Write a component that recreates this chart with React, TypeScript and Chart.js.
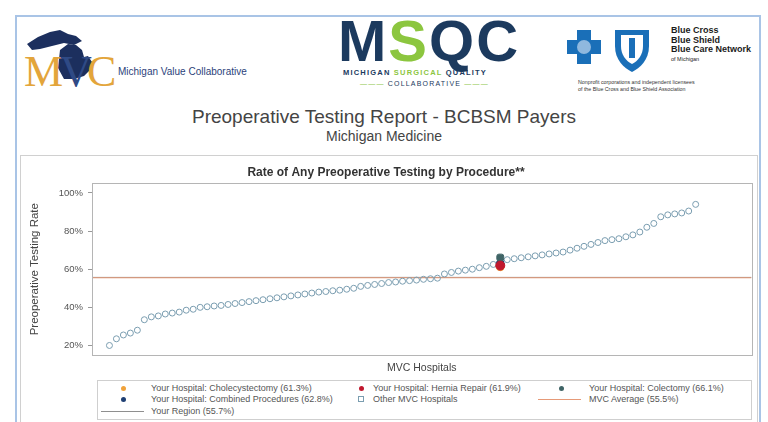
import React, { useEffect, useRef } from "react";
import { Chart, registerables } from "chart.js";

Chart.register(...registerables);

// ---- Data ----
const otherHospitalRates: (number | null)[] = [
  20, 23.5, 25.5, 26.5, 28, 33.5, 35, 35.5, 36.5, 37,
  37.5, 38.5, 39, 40, 40.3, 40.7, 41, 41.5, 42, 42.5,
  43, 43.5, 44, 44.5, 45, 45.5, 46, 46.5, 47, 47.5,
  48, 48.3, 48.7, 49, 49.5, 50, 51, 51.5, 52, 52.5,
  53, 53.3, 53.7, 54, 54.3, 54.7, 55, 55.3, 57.5, 58.3,
  59, 59.5, 60, 60.8, 61.5, 62.5, null, 65, 65.5, 66,
  66.5, 67, 67.5, 68, 68.5, 69, 70, 71, 72, 73,
  74, 75, 75.5, 76, 77, 78, 79.5, 82, 84, 87.5,
  88.5, 89, 89.5, 90.5, 94,
];
const hospitalRank = 57;
const cholecystectomyRate = 61.3;
const herniaRate = 61.9;
const colectomyRate = 66.1;
const combinedRate = 62.8;
const mvcAverage = 55.5;
const regionAverage = 55.7;
const yTickValues = [20, 40, 60, 80, 100];
const xRange = [-1.5, 93];
const yRange = [15, 105];

const FONT = '"Liberation Sans", Arial, sans-serif';

const COLORS = {
  chole: "#f0a23a",
  hernia: "#c0182e",
  colectomy: "#3f6466",
  combined: "#1f3f73",
  other: "#7a9db0",
  avg: "#e69a78",
  region: "#8f8f8f",
};

const boxPlugin = {
  id: "plotBox",
  afterDraw(chart: any) {
    const { ctx, chartArea } = chart;
    ctx.save();
    ctx.strokeStyle = "#b5b5b5";
    ctx.lineWidth = 1;
    ctx.strokeRect(
      Math.round(chartArea.left) + 0.5,
      Math.round(chartArea.top) + 0.5,
      Math.round(chartArea.right - chartArea.left),
      Math.round(chartArea.bottom - chartArea.top)
    );
    ctx.restore();
  },
};

function ScatterChart() {
  const ref = useRef<HTMLCanvasElement | null>(null);
  useEffect(() => {
    if (!ref.current) return;
    Chart.defaults.font.family = FONT;
    const pts = otherHospitalRates
      .map((v, i) => (v === null ? null : { x: i + 1, y: v }))
      .filter((p) => p !== null);
    const hp = (v: number) => [{ x: hospitalRank, y: v }];
    const chart = new Chart(ref.current, {
      type: "scatter",
      data: {
        datasets: [
          {
            label: "Your Hospital: Hernia Repair",
            data: hp(herniaRate),
            backgroundColor: COLORS.hernia,
            borderColor: COLORS.hernia,
            pointRadius: 4.5,
          },
          {
            label: "Your Hospital: Colectomy",
            data: hp(colectomyRate),
            backgroundColor: COLORS.colectomy,
            borderColor: COLORS.colectomy,
            pointRadius: 4,
            pointStyle: "rectRounded",
          },
          {
            label: "Your Hospital: Cholecystectomy",
            data: hp(cholecystectomyRate),
            backgroundColor: COLORS.chole,
            borderColor: COLORS.chole,
            pointRadius: 4,
          },
          {
            label: "Your Hospital: Combined Procedures",
            data: hp(combinedRate),
            backgroundColor: COLORS.combined,
            borderColor: COLORS.combined,
            pointRadius: 4,
          },
          {
            label: "Other MVC Hospitals",
            data: pts as any,
            backgroundColor: "rgba(255,255,255,0)",
            borderColor: COLORS.other,
            borderWidth: 1,
            pointRadius: 3,
          },
          {
            label: "MVC Average",
            data: [
              { x: xRange[0], y: mvcAverage },
              { x: xRange[1], y: mvcAverage },
            ],
            showLine: true,
            borderColor: COLORS.avg,
            borderWidth: 1,
            pointRadius: 0,
          },
          {
            label: "Your Region",
            data: [
              { x: xRange[0], y: regionAverage },
              { x: xRange[1], y: regionAverage },
            ],
            showLine: true,
            borderColor: COLORS.region,
            borderWidth: 1,
            pointRadius: 0,
          },
        ],
      },
      options: {
        animation: false,
        responsive: false,
        devicePixelRatio: 1,
        layout: { padding: { left: 0, right: 5, top: 0, bottom: 0 } },
        plugins: {
          legend: { display: false },
          tooltip: { enabled: false },
          title: {
            display: true,
            text: "Rate of Any Preoperative Testing by Procedure**",
            color: "#333",
            font: { size: 12, weight: "bold", family: FONT },
            padding: { top: 7, bottom: 4 },
          },
        },
        scales: {
          x: {
            type: "linear",
            min: xRange[0],
            max: xRange[1],
            ticks: { display: false },
            grid: { drawOnChartArea: false, drawTicks: false },
            border: { display: true, color: "#b5b5b5" },
            title: {
              display: true,
              text: "MVC Hospitals",
              color: "#444",
              font: { size: 10.5, family: FONT },
              padding: { top: 0, bottom: 2 },
            },
            afterFit: (s: any) => {
              s.height = 21;
            },
          },
          y: {
            min: yRange[0],
            max: yRange[1],
            afterBuildTicks: (s: any) => {
              s.ticks = yTickValues.map((v) => ({ value: v }));
            },
            ticks: {
              callback: (v: any) => v + "%",
              color: "#555",
              font: { size: 9.5, family: FONT },
              padding: 5,
            },
            grid: {
              drawOnChartArea: false,
              drawTicks: true,
              tickLength: 4,
              color: "#999",
            },
            border: { display: true, color: "#b5b5b5" },
            title: {
              display: true,
              text: "Preoperative Testing Rate",
              color: "#444",
              font: { size: 11.5, family: FONT },
              padding: { top: 8, bottom: 0 },
            },
            afterFit: (s: any) => {
              s.width = 72;
            },
          },
        },
      },
      plugins: [boxPlugin],
    } as any);
    return () => chart.destroy();
  }, []);
  return (
    <canvas
      ref={ref}
      width={737}
      height={218}
      style={{ position: "absolute", left: 20, top: 158, width: 737, height: 218 }}
    />
  );
}

const legendItems = [
  { label: "Your Hospital: Cholecystectomy (61.3%)", kind: "dot", color: COLORS.chole, col: 0, row: 0 },
  { label: "Your Hospital: Hernia Repair (61.9%)", kind: "dot", color: COLORS.hernia, col: 1, row: 0 },
  { label: "Your Hospital: Colectomy (66.1%)", kind: "dot", color: COLORS.colectomy, col: 2, row: 0 },
  { label: "Your Hospital: Combined Procedures (62.8%)", kind: "dot", color: COLORS.combined, col: 0, row: 1 },
  { label: "Other MVC Hospitals", kind: "square", color: COLORS.other, col: 1, row: 1 },
  { label: "MVC Average (55.5%)", kind: "line", color: COLORS.avg, col: 2, row: 1 },
  { label: "Your Region (55.7%)", kind: "line", color: COLORS.region, col: 0, row: 2 },
];

function Legend() {
  const colMarker = [25, 263, 463];
  const colText = [53, 275, 491];
  const rowY = [7, 18, 30];
  return (
    <div
      style={{
        position: "absolute",
        left: 97,
        top: 380,
        width: 653,
        height: 38,
        border: "1px solid #cfcfcf",
        fontFamily: FONT,
        fontSize: 9,
        color: "#555",
      }}
    >
      {legendItems.map((it, i) => {
        const y = rowY[it.row];
        let marker: React.ReactNode = null;
        if (it.kind === "dot") {
          marker = (
            <div
              style={{
                position: "absolute",
                left: colMarker[it.col] - 2.5,
                top: y - 2.5,
                width: 5,
                height: 5,
                borderRadius: 3,
                background: it.color,
              }}
            />
          );
        } else if (it.kind === "square") {
          marker = (
            <div
              style={{
                position: "absolute",
                left: colMarker[it.col] - 3,
                top: y - 3,
                width: 4,
                height: 4,
                border: `1px solid ${it.color}`,
              }}
            />
          );
        } else {
          const x0 = it.col === 0 ? 3 : 440;
          marker = (
            <div
              style={{
                position: "absolute",
                left: x0,
                top: y,
                width: 43,
                height: 1,
                background: it.color,
              }}
            />
          );
        }
        return (
          <React.Fragment key={i}>
            {marker}
            <div
              style={{
                position: "absolute",
                left: colText[it.col],
                top: y - 5,
                lineHeight: "10px",
                whiteSpace: "nowrap",
              }}
            >
              {it.label}
            </div>
          </React.Fragment>
        );
      })}
    </div>
  );
}

function Header() {
  return (
    <>
      {/* MVC logo */}
      <svg
        style={{ position: "absolute", left: 24, top: 24 }}
        width={95}
        height={64}
        viewBox="0 0 95 64"
      >
        <polygon
          points="3,20 14,13 26,8 36,6 44,10 52,12 58,17 50,21 40,19 28,22 16,25 8,26"
          fill="#1c2f5e"
        />
        <polygon
          points="36,26 44,20 52,21 58,26 60,33 64,32 68,38 66,46 60,52 50,55 40,55 34,44"
          fill="#1c2f5e"
        />
        <text x={0} y={62} fontFamily="'Liberation Serif', serif" fontSize={44} fill="#e3a53b">
          M
        </text>
        <text x={36} y={62} fontFamily="'Liberation Serif', serif" fontSize={44} fill="#2f4a85">
          V
        </text>
        <text x={63} y={62} fontFamily="'Liberation Serif', serif" fontSize={44} fill="#e3a53b">
          C
        </text>
      </svg>
      <div
        style={{
          position: "absolute",
          left: 118,
          top: 66,
          fontFamily: FONT,
          fontSize: 10,
          color: "#2b3f7a",
          whiteSpace: "nowrap",
        }}
      >
        Michigan Value Collaborative
      </div>

      {/* MSQC logo */}
      <div
        style={{
          position: "absolute",
          left: 338,
          top: 8,
          fontFamily: FONT,
          fontWeight: "bold",
          fontSize: 58,
          letterSpacing: 2,
          lineHeight: "66px",
          whiteSpace: "nowrap",
        }}
      >
        <span style={{ color: "#1c3a5e" }}>M</span>
        <span style={{ color: "#8cc63f" }}>S</span>
        <span style={{ color: "#1c3a5e" }}>Q</span>
        <span style={{ color: "#1c3a5e" }}>C</span>
      </div>
      <div
        style={{
          position: "absolute",
          left: 343,
          top: 68,
          fontFamily: FONT,
          fontWeight: "bold",
          fontSize: 7.5,
          letterSpacing: 1.2,
          whiteSpace: "nowrap",
          color: "#1c3a5e",
        }}
      >
        MICHIGAN <span style={{ color: "#8cc63f" }}>SURGICAL</span> QUALITY
      </div>
      <div
        style={{
          position: "absolute",
          left: 360,
          top: 80,
          fontFamily: FONT,
          fontSize: 7,
          letterSpacing: 1.2,
          whiteSpace: "nowrap",
          color: "#1c3a5e",
        }}
      >
        <span style={{ color: "#8cc63f" }}>——— </span>COLLABORATIVE
        <span style={{ color: "#8cc63f" }}> ———</span>
      </div>

      {/* Blue Cross Blue Shield logos */}
      <svg
        style={{ position: "absolute", left: 563, top: 26 }}
        width={95}
        height={48}
        viewBox="0 0 95 48"
      >
        <path
          d="M14,4 h14 v10 h10 v14 h-10 v10 h-14 v-10 h-10 v-14 h10 z"
          fill="#1a6fb8"
        />
        <circle cx={21} cy={21} r={7} fill="#8fb8de" />
        <path d="M52,4 h34 v16 c0,14 -9,22 -17,26 c-8,-4 -17,-12 -17,-26 z" fill="#1a6fb8" />
        <path d="M58,9 h22 v11 c0,9 -5,15 -11,18 c-6,-3 -11,-9 -11,-18 z" fill="#ffffff" />
        <rect x={66} y={12} width={6} height={20} fill="#1a6fb8" />
      </svg>
      <div
        style={{
          position: "absolute",
          left: 671,
          top: 26,
          fontFamily: FONT,
          fontWeight: "bold",
          fontSize: 9,
          lineHeight: "9.5px",
          color: "#1b1b1b",
          whiteSpace: "nowrap",
        }}
      >
        <div>Blue Cross</div>
        <div>Blue Shield</div>
        <div>Blue Care Network</div>
        <div style={{ fontSize: 5.5, fontWeight: "normal", lineHeight: "8px" }}>of Michigan</div>
      </div>
      <div
        style={{
          position: "absolute",
          left: 578,
          top: 79,
          fontFamily: FONT,
          fontSize: 5.3,
          lineHeight: "6.5px",
          color: "#333",
          whiteSpace: "nowrap",
        }}
      >
        <div>Nonprofit corporations and independent licensees</div>
        <div>of the Blue Cross and Blue Shield Association</div>
      </div>

      {/* Report titles */}
      <div
        style={{
          position: "absolute",
          left: 0,
          width: 768,
          top: 106,
          textAlign: "center",
          fontFamily: FONT,
          fontSize: 19,
          lineHeight: "22px",
          color: "#444",
          whiteSpace: "nowrap",
        }}
      >
        Preoperative Testing Report - BCBSM Payers
      </div>
      <div
        style={{
          position: "absolute",
          left: 0,
          width: 768,
          top: 128,
          textAlign: "center",
          fontFamily: FONT,
          fontSize: 14,
          lineHeight: "16px",
          color: "#444",
          whiteSpace: "nowrap",
        }}
      >
        Michigan Medicine
      </div>
    </>
  );
}

export default function App() {
  return (
    <div
      style={{
        position: "absolute",
        left: 0,
        top: 0,
        width: 768,
        height: 422,
        overflow: "hidden",
        background: "#ffffff",
      }}
    >
      <div
        style={{
          position: "absolute",
          left: 15,
          top: 15,
          width: 742,
          height: 420,
          border: "2px solid #a9c4e6",
        }}
      />
      <Header />
      <div
        style={{
          position: "absolute",
          left: 20,
          top: 155,
          width: 736,
          height: 270,
          border: "1px solid #d0d0d0",
        }}
      />
      <ScatterChart />
      <Legend />
    </div>
  );
}
